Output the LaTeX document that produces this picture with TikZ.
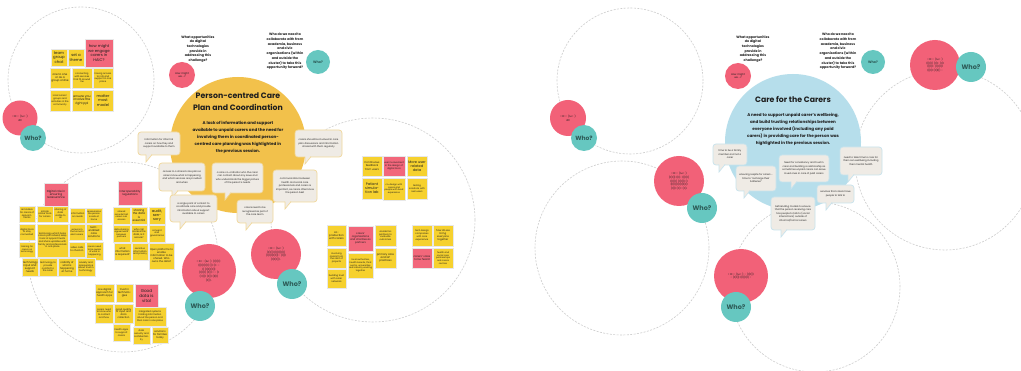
\documentclass[tikz,border=0pt]{standalone}
\usepackage{fontspec}
\setmainfont{Poppins}
\definecolor{stY}{HTML}{F6D12E}
\definecolor{stP}{HTML}{F2677B}
\definecolor{pinkC}{HTML}{F26178}
\definecolor{tealC}{HTML}{66C7C0}
\definecolor{tealT}{HTML}{2C5A56}
\definecolor{mustard}{HTML}{F2C14B}
\definecolor{lblue}{HTML}{B6DEEB}
\definecolor{bubfillc}{HTML}{EFEBE5}
\definecolor{bubY}{HTML}{F1D89B}
\definecolor{bubB}{HTML}{C8E3ED}
\definecolor{dashc}{HTML}{CDCDCD}
\definecolor{ink}{HTML}{1E1E1E}
\tikzset{
  dcircle/.style={circle, draw=dashc, line width=0.6pt, dash pattern=on 2pt off 1.4pt, inner sep=0pt},
  bigc/.style={circle, inner sep=0pt},
  stk/.style={rectangle, inner sep=0.4pt, draw=black!9, line width=0.35pt, align=center, text=ink},
  bubble/.style={rectangle, rounded corners=3pt, fill=bubfillc, line width=0.7pt, inner sep=1pt, text=ink},
  bubfill/.style={fill=bubfillc},
  pkstyle/.style={circle, fill=pinkC, inner sep=0pt, text=ink},
  whstyle/.style={circle, fill=tealC, inner sep=0pt, text=tealT},
  titletext/.style={align=center, text=ink, font=\fontsize{7.8pt}{12pt}\selectfont\bfseries},
  bodytext/.style={align=center, text=ink, font=\fontsize{4.1pt}{7pt}\selectfont\bfseries},
  qtext/.style={align=center, text=ink, font=\fontsize{3.3pt}{4.7pt}\selectfont\bfseries},
}
% sticky: name, x1, y1, x2, y2, colour, font size, text
\newcommand\stk[8]{\node[stk, fill=#6, minimum width={(#4)-(#2)}, minimum height={(#5)-(#3)}] (#1) at ({((#2)+(#4))/2},{((#3)+(#5))/2}) {\parbox{\dimexpr #4pt-#2pt-2pt\relax}{\centering\fontsize{\dimexpr #7pt*11/10\relax}{\dimexpr #7pt*13/10\relax}\selectfont #8}};}
% bubble: name, x1, y1, x2, y2, tail x, border colour, text
\newcommand\bub[8]{%
  \node[bubble, draw=#7, minimum width={(#4)-(#2)}, minimum height={(#5)-(#3)}] (#1) at ({((#2)+(#4))/2},{((#3)+(#5))/2}) {\parbox{\dimexpr #4pt-#2pt-6pt\relax}{\centering\fontsize{2.4pt}{3.5pt}\selectfont #8}};
  \fill[bubfill] (#6,#5-1.3) -- (#6,#5+7) -- (#6+6,#5-1.3) -- cycle;
  \draw[draw=#7, line width=0.7pt] (#6,#5-0.4) -- (#6,#5+7) -- (#6+6,#5-0.4);}
% pink circle: name, x, y, r, text
\newcommand\pkc[5]{\node[pkstyle, minimum size={2*(#4)}] (#1) at (#2,#3) {\parbox{\dimexpr #4pt*15/10\relax}{\centering\fontsize{2.7pt}{3.8pt}\selectfont #5}};}
% teal circle: name, x, y, r, font size
\newcommand\whc[5]{\node[whstyle, minimum size={2*(#4)}, font=\fontsize{#5pt}{#5pt}\selectfont\bfseries] (#1) at (#2,#3) {Who?};}
\begin{document}
\begin{tikzpicture}[x=1pt,y=-1pt]
\useasboundingbox[fill=white] (0,0) rectangle (1021,371);
% ---------------- LEFT HALF ----------------
\node[dcircle, minimum size=146] (lc1) at (81,80) {};
\node[dcircle, minimum size=190] (lc2) at (123,257) {};
\node[dcircle, minimum size=204] (lc3) at (373,220) {};
\node[bigc, fill=mustard, minimum size=136] (ly) at (238,145) {};
\node[titletext] (lt) at (238,102) {Person-centred Care\\Plan and Coordination};
\node[bodytext] (lb) at (238,137) {A lack of information and support\\available to unpaid carers and the need for\\involving them in coordinated person-\\centred care planning was highlighted in\\the previous session.};
\node[qtext] (lq1) at (198,49) {What opportunities\\do digital\\technologies\\provide in\\addressing this\\challenge?};
\node[qtext] (lq2) at (285,51.5) {Who do we need to\\collaborate with from\\academia, business\\and civic\\organisations (within\\and outside the\\cluster) to take this\\opportunity forward?};
\node[pkstyle, minimum size=26, font=\fontsize{2.6pt}{3.4pt}\selectfont, align=center] (lhm) at (182,75) {How might\\we ...?};
\node[whstyle, minimum size=24, font=\fontsize{3.4pt}{3.4pt}\selectfont\bfseries] (lwq) at (318,62) {Who?};
% top-left stickies
\stk{s1}{51}{49}{67}{66}{stY}{3.5}{team group chat}
\stk{s2}{68}{49}{84}{66}{stY}{3.5}{set a theme}
\stk{s3}{85}{39}{113}{67}{stP}{3.5}{how might we engage carers in HAIC?}
\stk{s4}{50}{68}{70}{88}{stY}{2.5}{one to one or as a group online}
\stk{s5}{72}{68}{92}{88}{stY}{2.1}{connecting with services that fit around me}
\stk{s6}{93}{68}{113}{88}{stY}{2.1}{having access to info and support in one place}
\stk{s7}{50}{90}{70}{111}{stY}{2.1}{local carers' groups and activities in the community}
\stk{s8}{72}{90}{92}{111}{stY}{2.8}{ensure you involve the right ppl}
\stk{s9}{93}{90}{113}{111}{stY}{3.4}{matter most model}
% group A
\stk{a0}{44}{183}{68}{206}{stP}{2.6}{Digital role in ensuring reassurance}
\stk{a1}{19}{206}{35}{222}{stY}{2.1}{reminders for carers of appointments}
\stk{a2}{37}{206}{53}{222}{stY}{2.1}{simple online tools for carers}
\stk{a3}{53}{206}{68}{222}{stY}{2.1}{sharing of data visible to all}
\stk{a4}{70}{208}{85}{223}{stY}{2.1}{information on needs}
\stk{a5}{86}{208}{102}{223}{stY}{2.0}{reassurance the person is safe at home}
\stk{a6}{19}{224}{35}{240}{stY}{2.1}{digital tools to stay connected}
\stk{a7}{37}{224}{68}{257}{stY}{2.1}{technology which helps carers plan ahead, keep track of appointments and share updates with family and professionals in one place}
\stk{a8}{69}{224}{85}{240}{stY}{2.0}{sensors in the home to alert carers}
\stk{a9}{86}{224}{102}{240}{stY}{2.4}{tech-enabled care solutions}
\stk{a10}{19}{242}{35}{257}{stY}{2.0}{training for carers on technology}
\stk{a11}{69}{242}{85}{257}{stY}{2.2}{video calls to check in}
\stk{a12}{86}{242}{103}{260}{stY}{2.0}{carers need to be aware of what is happening}
\stk{a13}{22}{258}{38}{276}{stY}{2.4}{technology input and support needs}
\stk{a14}{39}{258}{57}{276}{stY}{2.1}{technology to provide comfort to the carer}
\stk{a15}{58}{258}{76}{276}{stY}{2.3}{visibility of what is happening at home}
\stk{a16}{77}{258}{95}{276}{stY}{2.1}{anxiety and reassurance about trust in technology}
% group B
\stk{b0}{118}{181}{142}{205}{stP}{2.5}{Interoperability regulations}
\stk{b1}{113}{207}{130}{224}{stY}{2.0}{shared records that carers can access}
\stk{b2}{131}{207}{147}{224}{stY}{2.6}{sharing the data is essential}
\stk{b3}{149}{207}{165}{224}{stY}{3.3}{audit, sensory}
\stk{b4}{113}{225}{130}{242}{stY}{2.0}{data sharing agreements between partners}
\stk{b5}{131}{225}{147}{242}{stY}{2.2}{who can access the data, is it secure?}
\stk{b6}{149}{225}{165}{242}{stY}{2.1}{consent and governance}
\stk{b7}{114}{243}{131}{260}{stY}{2.3}{what information is required?}
\stk{b8}{132}{243}{148}{260}{stY}{2.1}{sensitive information and privacy}
\stk{b9}{149}{243}{174}{269}{stY}{2.3}{Open platforms to enable information to be shared. Who owns the data?}
% group C
\stk{c1}{95}{284}{114}{302}{stY}{2.3}{one digital approach for health apps}
\stk{c2}{116}{284}{133}{302}{stY}{2.4}{trust in technologies}
\stk{c3}{135}{284}{158}{308}{stP}{3.8}{Good data is vital}
\stk{c4}{95}{304}{113}{323}{stY}{2.1}{carers need to know who to contact and how}
\stk{c5}{114}{304}{133}{323}{stY}{2.2}{good quality of input and data collection}
\stk{c6}{134}{307}{166}{326}{stY}{2.1}{integrated systems holding information about the person and their care in one place}
\stk{c7}{113}{324}{130}{341}{stY}{2.1}{health apps to support carers}
\stk{c8}{133}{327}{150}{344}{stY}{2.1}{data security and confidentiality}
\stk{c9}{152}{327}{168}{343}{stY}{2.3}{solutions for families today}
% group D
\stk{d1}{362}{156}{382}{176}{stY}{2.4}{Continuous feedback from users}
\stk{d2}{383}{156}{405}{176}{stP}{2.1}{user involvement in the design of digital tools}
\stk{d3}{407}{156}{427}{176}{stY}{3.2}{More user related data}
\stk{d4}{362}{178}{382}{199}{stY}{3.2}{Patient simulation lab}
\stk{d5}{383}{178}{405}{200}{stY}{2.0}{co-design with carers and people with lived experience}
\stk{d6}{407}{178}{427}{199}{stY}{2.1}{testing solutions with real users}
% group E
\stk{e1}{327}{225}{346}{246}{stY}{2.4}{co-production with carers}
\stk{e2}{327}{248}{346}{268}{stY}{2.1}{involving carers from the start of projects}
\stk{e3}{327}{269}{346}{288}{stY}{2.1}{building trust with carer networks}
\stk{e4}{348}{226}{373}{251}{stP}{2.3}{carers' organisations and charities as partners}
\stk{e5}{348}{253}{373}{278}{stY}{2.0}{local authorities, health boards, third sector, universities and industry working together}
\stk{e6}{375}{225}{396}{246}{stY}{2.1}{academic partners to evaluate outcomes}
\stk{e7}{375}{248}{396}{268}{stY}{2.4}{primary care and GP practices}
% group F
\stk{f1}{412}{225}{432}{246}{stY}{2.1}{tech design companies with care experience}
\stk{f2}{433}{225}{453}{246}{stY}{2.3}{how do we bring everyone together}
\stk{f3}{412}{248}{432}{268}{stP}{2.4}{carers' voice to be heard}
\stk{f4}{433}{248}{453}{268}{stY}{2.0}{health and social care partnerships and carers centres}
% bubbles left
\bub{lb1}{138}{132}{180}{155}{146}{bubY}{Information for informal carers on how they and support available to them}
\bub{lb2}{295}{130}{342}{157}{305}{bubY}{carers should be involved in care plan discussions and information shared with them regularly}
\bub{lb3}{159}{163}{205}{191}{172}{bubY}{access to a shared care plan so carers know what is happening and which services are provided and when}
\bub{lb4}{212}{163}{263}{193}{225}{bubY}{a care co-ordinator who the carer can contact about any issue and who understands the bigger picture of the person's needs}
\bub{lb5}{273}{170}{317}{202}{285}{bubY}{communication between health and social care professionals and carers is important, as carers often know the person best}
\bub{lb6}{237}{200}{273}{223}{246}{bubY}{carers need to be recognised as part of the care team}
\bub{lb7}{170}{195}{217}{222}{180}{bubY}{a single point of contact to coordinate care and provide information about support available to carers}
% pink + who circles left
\pkc{lp1}{20}{118}{17.5}{\mbox{< D> : (lu< :)}\\dll}
\whc{lw1}{33}{138}{13}{6}
\pkc{lp2}{209}{271}{27}{< D> : (lu< ): (l(l(l) :\\(l(l(l(l(l) (l) :(l- -\\(l (l(l(l(l(l)\\(l(l(l) (l(l) :: - (l\\(l (l(l (l(l) (l(l(l\\(l(l) .}
\whc{lw2}{200}{306}{15}{6.5}
\pkc{lp3}{276}{254}{25}{< D> : (lu< :)\\(l(l(l) (l(l(l(l(l)\\(l(l(l(l(l(l) : (l(l)\\(l(l(l(l) .}
\whc{lw3}{292}{284}{15}{6.5}
% ---------------- RIGHT HALF ----------------
\node[dcircle, minimum size=146] (rc1) at (630,81) {};
\node[dcircle, minimum size=174] (rc2) at (622,248) {};
\node[dcircle, minimum size=170] (rc3) at (815,287) {};
\node[dcircle, minimum size=180] (rc4) at (945,160) {};
\node[bigc, fill=lblue, minimum size=136] (rb) at (793,142) {};
\node[titletext] (rt) at (793,99) {Care for the Carers};
\node[bodytext] (rbt) at (793,129) {A need to support unpaid carer's wellbeing,\\and build trusting relationships between\\everyone involved (including any paid\\carers) in providing care for the person was\\highlighted in the previous session.};
\node[qtext] (rq1) at (753,49) {What opportunities\\do digital\\technologies\\provide in\\addressing this\\challenge?};
\node[qtext] (rq2) at (838,51.5) {Who do we need to\\collaborate with from\\academia, business\\and civic\\organisations (within\\and outside the\\cluster) to take this\\opportunity forward?};
\node[pkstyle, minimum size=26, font=\fontsize{2.6pt}{3.4pt}\selectfont, align=center] (rhm) at (738,76) {How might\\we ...?};
\node[whstyle, minimum size=24, font=\fontsize{3.4pt}{3.4pt}\selectfont\bfseries] (rwq) at (873,62) {Who?};
\bub{rb1}{713}{144}{747}{165}{719}{bubB}{time to be a family member and not a carer}
\bub{rb2}{736}{166}{776}{191}{744}{bubB}{ensuring respite for carers - time to ``recharge their batteries''}
\bub{rb3}{779}{155}{829}{182}{791}{bubB}{Need for consistency and trust in carer and building a relationship as sometimes unpaid carers can leave loved ones in care of paid carers}
\bub{rb4}{840}{147}{882}{175}{848}{bubB}{need to take time to care for their own wellbeing including their mental health}
\bub{rb5}{817}{185}{854}{203}{826}{bubB}{services that carers have people to talk to}
\bub{rb6}{771}{197}{815}{230}{781}{bubB}{befriending models to ensure that the person receiving care has people to talk to (social interactions) outside of informal/formal carers}
\pkc{rp1}{568}{118}{18}{\mbox{< D> : (lu< :)}\\dll}
\whc{rw1}{584}{138}{13}{6}
\pkc{rp2}{679}{181}{25}{< D> : (lu< :)\\(l(l(l) (l(l- (l(l(l)\\(l(l(l) (l(l(l) (l\\(l(l(l(l(l(l(l(l(l\\(l(l) (l(l : (l(l.}
\whc{rw2}{702}{208}{15}{6.5}
\pkc{rp3}{741}{276}{27}{< D> : (lu< :) - (l(l(l)\\- (l(l(l) (l(l(l(l) -}
\whc{rw3}{736}{307}{15}{6.5}
\pkc{rp4}{935}{65}{25}{< D> : (lu< :)\\(l(l(l) (l(l- (l(l\\(l(l(l- (l(l(l(l\\(l(l(l (l(l(l) -}
\whc{rw4}{971}{67}{15}{6.5}
\end{tikzpicture}
\end{document}
